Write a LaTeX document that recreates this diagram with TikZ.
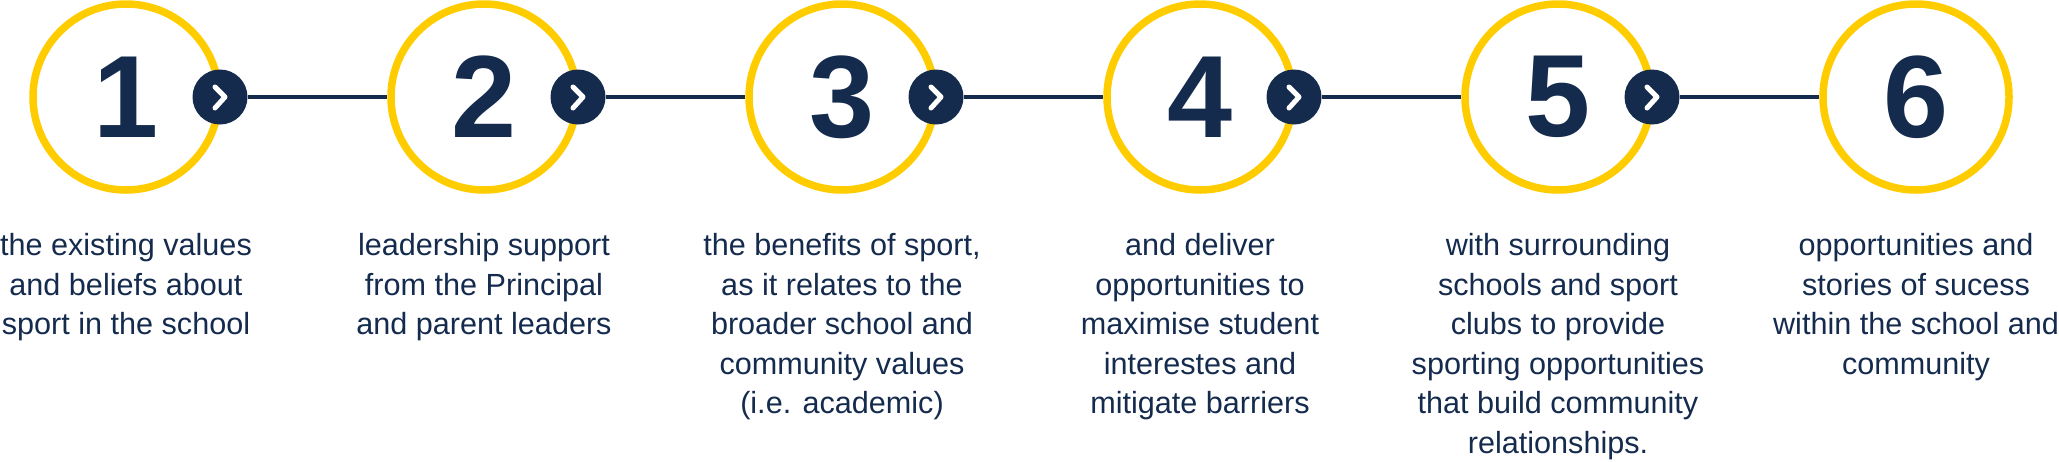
\documentclass[tikz,border=0pt]{standalone}
\usepackage{fontspec}
\setmainfont{Liberation Sans}
\definecolor{navy}{HTML}{152B4E}
\definecolor{gold}{HTML}{FFCC00}
\tikzset{
  ring/.style={circle, draw=gold, line width=3.75pt, minimum size=93pt, inner sep=0pt,
    text=navy, font=\fontsize{58.5}{60}\selectfont\bfseries},
  nextdot/.style={circle, fill=navy, minimum size=27.5pt, inner sep=0pt},
  chev/.style={draw=white, line width=2.5pt, line cap=round, line join=round},
  link/.style={draw=navy, line width=2pt},
  caption/.style={anchor=north, inner sep=0pt, align=center, text=navy,
    font=\fontsize{15.3}{19.75}\selectfont}
}
\begin{document}
\begin{tikzpicture}[x=0.5pt,y=-0.5pt]
\useasboundingbox (0,0) rectangle (2059,461);
% circles
\foreach \i in {1,...,6}{
  \node[ring] (c\i) at ({126+358*(\i-1)},97) {\i};
}
% connector dots
\foreach \i in {1,...,5}{
  \node[nextdot] (d\i) at ({126+358*(\i-1)+94},97) {};
}
% links
\foreach \i/\j in {1/2,2/3,3/4,4/5,5/6}{
  \draw[link] (d\i.east) -- (c\j.west);
}
% chevrons
\foreach \i in {1,...,5}{
  \draw[chev] ([shift={(-5,-10)}]d\i.center) -- ([shift={(5,0)}]d\i.center) -- ([shift={(-5,11)}]d\i.center);
}
% captions
\node[caption] (t1) at (126,233) {the existing values\\and beliefs about\\sport in the school};
\node[caption] (t2) at (484,233) {leadership support\\from the Principal\\and parent leaders};
\node[caption] (t3) at (842,233) {the benefits of sport,\\as it relates to the\\broader school and\\community values\\(i.e. academic)};
\node[caption] (t4) at (1200,233) {and deliver\\opportunities to\\maximise student\\interestes and\\mitigate barriers};
\node[caption] (t5) at (1558,233) {with surrounding\\schools and sport\\clubs to provide\\sporting opportunities\\that build community\\relationships.};
\node[caption] (t6) at (1916,233) {opportunities and\\stories of sucess\\within the school and\\community};
\end{tikzpicture}
\end{document}
